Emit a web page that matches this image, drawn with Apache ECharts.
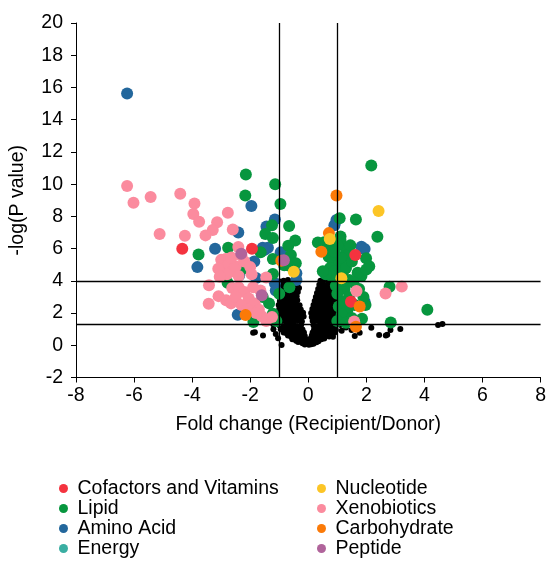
<!DOCTYPE html>
<html><head><meta charset="utf-8">
<script src="https://cdn.jsdelivr.net/npm/echarts@6/dist/echarts.min.js"></script>
<style>html,body{margin:0;padding:0;background:#fff}#c{width:549px;height:561px}</style>
</head><body><div id="c"></div>
<script>
const categories = ['Cofactors and Vitamins','Lipid','Amino Acid','Energy','Nucleotide','Xenobiotics','Carbohydrate','Peptide'];
const xTicks = [-8,-6,-4,-2,0,2,4,6,8];
const yTicks = [-2,0,2,4,6,8,10,12,14,16,18,20];
const thresholdX = [-1, 1];
const thresholdY = [4, 1.3];

const cofactors = [[-4.34,5.99],[-1.94,5.99],[1.62,5.6],[1.47,2.7]];
const lipid = [[-2.15,10.6],[-1.14,10.0],[-2.17,9.3],[-0.96,8.76],[-0.66,7.4],[-1.25,7.45],[-1.48,6.9],[-1.22,6.65],[-0.45,6.5],[-2.76,6.05],[-3.78,5.63],[-0.69,6.18],[-0.6,5.6],[-1.22,5.35],[-0.83,4.97],[-1.22,4.42],[-2.15,4.78],[-2.78,3.88],[-1.57,3.0],[-1.89,1.45],[-1.8,1.95],[-1.64,5.78],[-0.43,5.09],[-0.71,4.97],[-1.35,2.6],[-1.22,1.95],[-1.0,3.2],[-1.1,1.5],[-0.65,3.6],
[2.17,11.15],[1.64,7.8],[2.38,6.74],[1.08,7.88],[0.33,6.38],[0.62,5.93],[1.11,6.75],[1.11,6.5],[1.3,5.93],[1.41,5.71],[1.99,5.4],[2.1,4.9],[2.8,3.63],[4.1,2.2],[2.84,1.42],[1.97,2.5],[1.83,4.3],[1.41,4.05],[0.55,6.4],
[0.7,5.5],[0.85,5.2],[0.95,5.6],[1.05,5.0],[1.15,5.4],[0.75,4.8],[0.9,4.6],[1.0,4.3],[1.2,4.6],[0.8,4.3],[1.3,4.8],[1.5,5.2],[1.7,4.5],[1.1,3.8],[1.25,3.5],[1.0,3.2],[1.4,3.0],[1.2,2.7],[1.05,2.4],[1.35,2.2],[1.15,1.9],[1.5,1.7],[1.85,1.65],[1.0,1.5],[1.3,1.4],[1.6,2.5],[1.75,3.5],[0.95,3.7],[0.6,4.4],[0.5,4.6],[1.9,3.0],[1.55,3.9],[1.2,4.0],[2.0,4.7],[1.45,6.2],[1.0,6.2],[0.82,6.0],[0.9,5.8]];
const aminoAcid = [[-6.24,15.63],[-1.96,8.65],[-3.82,4.85],[-3.21,5.99],[-2.41,7.0],[-1.44,7.37],[-1.15,7.8],[-2.43,1.9],[-2.38,4.35],[-1.57,6.05],[-1.39,6.05],[-0.95,5.78],[-1.8,4.18],[-1.15,3.85],[-0.41,4.47],[-0.41,4.05],[-1.86,5.2],[-1.12,3.4],[-1.5,5.92],[0.97,7.78],[0.9,7.45],[1.83,6.12],[1.94,5.97],[1.94,2.7],[0.57,4.47]];
const energy = [];
const nucleotide = [[2.42,8.34],[-0.5,4.57],[0.74,6.6],[1.14,4.16]];
const xenobiotics = [[-6.24,9.88],[-6.02,8.84],[-5.43,9.2],[-4.41,9.41],[-3.92,8.8],[-3.96,8.15],[-3.76,7.67],[-3.14,7.64],[-3.29,7.15],[-3.54,6.82],[-4.25,6.8],[-5.12,6.9],[-2.77,8.23],[-2.6,7.18],[-2.41,6.1],
[-3.0,5.3],[-2.85,5.35],[-2.95,4.9],[-2.75,5.0],[-3.1,4.75],[-2.6,4.6],[-2.8,4.4],[-3.05,4.25],[-2.5,4.9],[-2.65,5.45],[-2.4,4.3],[-2.2,5.2],[-2.0,4.85],[-2.3,5.55],[-1.95,4.4],
[-3.42,3.72],[-3.43,2.58],[-3.09,3.05],[-2.62,3.55],[-2.83,2.8],[-2.66,2.6],[-2.4,3.6],[-2.2,3.3],[-2.05,2.9],[-1.9,3.6],[-2.5,3.0],[-2.3,2.5],[-1.85,2.6],[-1.7,2.2],[-1.6,1.8],[-1.45,1.5],[-1.25,1.75],[-1.65,3.4],[-1.45,4.2],[-2.1,2.2],[-1.8,2.0],
[1.66,3.37],[1.58,1.47],[2.66,3.22],[3.22,3.64]];
const carbohydrate = [[0.97,9.29],[0.71,6.96],[0.45,5.81],[-2.16,1.88],[1.77,2.4],[1.64,1.15],[-0.93,5.25]];
const peptide = [[-2.31,5.68],[-1.6,3.1],[-0.84,5.28]];
const notSignificant = [
[-0.12,0.05],[0.02,0.03],[0.1,0.06],[-0.05,0.1],[0.18,0.1],[-0.2,0.12],
[-0.35,0.2],[-0.25,0.22],[-0.15,0.18],[0.05,0.2],[0.15,0.22],[0.28,0.18],[0.35,0.25],[-0.42,0.28],
[-0.55,0.38],[-0.45,0.42],[-0.3,0.4],[-0.2,0.45],[-0.08,0.38],[0.08,0.42],[0.2,0.4],[0.32,0.45],[0.45,0.38],[0.55,0.42],
[-0.7,0.6],[-0.6,0.55],[-0.48,0.65],[-0.35,0.6],[-0.22,0.62],[-0.12,0.58],[0.12,0.6],[0.25,0.62],[0.38,0.58],[0.5,0.65],[0.62,0.6],[0.72,0.55],
[-0.85,0.8],[-0.75,0.75],[-0.62,0.85],[-0.5,0.8],[-0.38,0.78],[-0.25,0.82],[-0.15,0.8],[0.15,0.8],[0.28,0.78],[0.4,0.85],[0.55,0.8],[0.68,0.75],[0.8,0.82],[0.9,0.78],
[-0.95,1.0],[-0.82,1.05],[-0.7,0.98],[-0.58,1.02],[-0.45,1.0],[-0.32,1.05],[-0.2,0.98],[0.2,1.0],[0.32,1.05],[0.45,0.98],[0.6,1.02],[0.72,1.0],[0.85,1.05],[0.95,0.95],
[-1.0,1.25],[-0.88,1.2],[-0.75,1.3],[-0.62,1.22],[-0.5,1.28],[-0.38,1.2],[-0.25,1.25],[0.18,1.25],[0.3,1.2],[0.42,1.3],[0.55,1.22],[0.68,1.28],[0.8,1.2],[0.92,1.25],
[-0.98,1.5],[-0.85,1.55],[-0.72,1.48],[-0.6,1.52],[-0.48,1.5],[-0.35,1.55],[-0.22,1.48],[0.15,1.5],[0.28,1.55],[0.4,1.48],[0.52,1.52],[0.65,1.5],[0.78,1.55],[0.9,1.48],
[-1.02,1.75],[-0.9,1.8],[-0.78,1.72],[-0.65,1.78],[-0.52,1.75],[-0.4,1.8],[-0.28,1.72],[-0.16,1.78],[0.12,1.75],[0.25,1.8],[0.38,1.72],[0.5,1.78],[0.62,1.75],[0.75,1.8],[0.88,1.72],[0.98,1.78],
[-1.05,2.0],[-0.92,2.05],[-0.8,1.98],[-0.68,2.02],[-0.55,2.0],[-0.42,2.05],[-0.3,1.98],[-0.18,2.02],[0.1,2.0],[0.22,2.05],[0.35,1.98],[0.48,2.02],[0.6,2.0],[0.72,2.05],[0.85,1.98],[0.96,2.02],
[-1.0,2.25],[-0.88,2.3],[-0.75,2.22],[-0.62,2.28],[-0.5,2.25],[-0.38,2.3],[-0.26,2.22],[0.14,2.25],[0.26,2.3],[0.38,2.22],[0.5,2.28],[0.62,2.25],[0.75,2.3],[0.88,2.22],
[-1.02,2.5],[-0.9,2.55],[-0.78,2.48],[-0.66,2.52],[-0.54,2.5],[-0.42,2.55],[-0.3,2.48],[0.18,2.5],[0.3,2.55],[0.42,2.48],[0.55,2.52],[0.68,2.5],[0.8,2.55],[0.92,2.48],
[-0.98,2.75],[-0.86,2.8],[-0.74,2.72],[-0.62,2.78],[-0.5,2.75],[-0.38,2.8],[0.22,2.75],[0.34,2.8],[0.46,2.72],[0.58,2.78],[0.7,2.75],[0.82,2.8],[0.94,2.72],
[-1.0,3.0],[-0.88,3.05],[-0.76,2.98],[-0.64,3.02],[-0.52,3.0],[-0.4,3.05],[0.26,3.0],[0.38,3.05],[0.5,2.98],[0.62,3.02],[0.74,3.0],[0.86,3.05],
[-0.96,3.25],[-0.84,3.3],[-0.72,3.22],[-0.6,3.28],[-0.48,3.25],[-0.36,3.3],[0.3,3.25],[0.42,3.3],[0.54,3.22],[0.66,3.28],[0.78,3.25],[0.9,3.3],
[-0.92,3.5],[-0.8,3.55],[-0.68,3.48],[-0.56,3.52],[-0.44,3.5],[-0.32,3.55],[0.34,3.5],[0.46,3.55],[0.58,3.48],[0.7,3.52],[0.82,3.5],
[-0.9,3.75],[-0.78,3.8],[-0.66,3.72],[-0.54,3.78],[-0.38,3.75],[0.38,3.75],[0.5,3.8],[0.62,3.72],[0.74,3.78],[0.86,3.75],
[-0.85,4.0],[-0.7,4.05],[-0.55,3.98],[0.42,4.0],[0.56,4.05],[0.7,3.98],[0.82,4.1],[-0.98,3.95],
[-1.84,0.81],[-1.9,0.78],[-1.56,0.6],[-1.21,1.3],[-1.04,0.43],[-0.92,0.02],[-1.2,1.0],[-1.12,0.7],
[1.11,1.26],[0.85,0.53],[1.49,0.95],[1.6,0.58],[1.77,0.78],[2.17,1.09],[2.44,0.64],[2.67,0.61],[2.72,0.66],[2.83,0.95],[3.17,1.01],[4.47,1.26],[4.62,1.32],[1.15,0.9],[1.3,1.1]
];

const colors = {
  'Cofactors and Vitamins':'#f4333f','Lipid':'#07963e','Amino Acid':'#23679c','Energy':'#3aaea2',
  'Nucleotide':'#fcc526','Xenobiotics':'#fb8b9e','Carbohydrate':'#fb7a08','Peptide':'#b0649b'
};
const dataMap = {
  'Cofactors and Vitamins':cofactors,'Lipid':lipid,'Amino Acid':aminoAcid,'Energy':energy,
  'Nucleotide':nucleotide,'Xenobiotics':xenobiotics,'Carbohydrate':carbohydrate,'Peptide':peptide
};
const drawOrder = ['Amino Acid','Lipid','Xenobiotics','Cofactors and Vitamins','Carbohydrate','Nucleotide','Peptide','Energy'];

const FONT = 'Liberation Sans, Arial, sans-serif';
const FS = 19.5;
const chart = echarts.init(document.getElementById('c'), null, {renderer:'canvas'});
const lineStyle = {color:'#000', width:1.3, type:'solid'};
const series = [{
  name:'ns', type:'scatter', data:notSignificant, symbolSize:6,
  itemStyle:{color:'#000', opacity:1}, z:2, silent:true,
  markLine:{silent:true, symbol:'none', animation:false, label:{show:false}, lineStyle:lineStyle,
    data: thresholdX.map(v=>({xAxis:v})).concat(thresholdY.map(v=>({yAxis:v})))}
}];
drawOrder.forEach(n=>{
  series.push({name:n, type:'scatter', data:dataMap[n], symbolSize:12, z:3,
    itemStyle:{color:colors[n], opacity:1}});
});
const legendBase = {orient:'vertical', icon:'circle', itemWidth:18, itemHeight:9, itemGap:0,
  textStyle:{fontFamily:FONT, fontSize:FS, color:'#000', lineHeight:19.3}, selectedMode:false, padding:0};
chart.setOption({
  animation:false,
  color: categories.map(c=>colors[c]),
  grid:{left:76, right:8, top:23, bottom:183.5, containLabel:false},
  xAxis:{type:'value', min:xTicks[0], max:xTicks[xTicks.length-1], interval:2,
    name:'Fold change (Recipient/Donor)', nameLocation:'middle', nameGap:37,
    nameTextStyle:{fontFamily:FONT, fontSize:FS, color:'#000'},
    axisLine:{onZero:false, lineStyle:{color:'#000', width:1}},
    axisTick:{show:true, length:5, lineStyle:{color:'#000'}},
    axisLabel:{fontFamily:FONT, fontSize:FS, color:'#000', margin:8},
    splitLine:{show:false}},
  yAxis:{type:'value', min:yTicks[0], max:yTicks[yTicks.length-1], interval:2,
    name:'-log(P value)', nameLocation:'middle', nameGap:48, nameRotate:90,
    nameTextStyle:{fontFamily:FONT, fontSize:FS, color:'#000'},
    axisLine:{show:true, onZero:false, lineStyle:{color:'#000', width:1}},
    axisTick:{show:true, length:5, lineStyle:{color:'#000'}},
    axisLabel:{fontFamily:FONT, fontSize:FS, color:'#000', margin:13},
    splitLine:{show:false}},
  legend:[
    Object.assign({left:59, top:478.5, data:categories.slice(0,4)}, legendBase),
    Object.assign({left:317, top:478.5, data:categories.slice(4)}, legendBase)
  ],
  series:series
});
</script></body></html>
